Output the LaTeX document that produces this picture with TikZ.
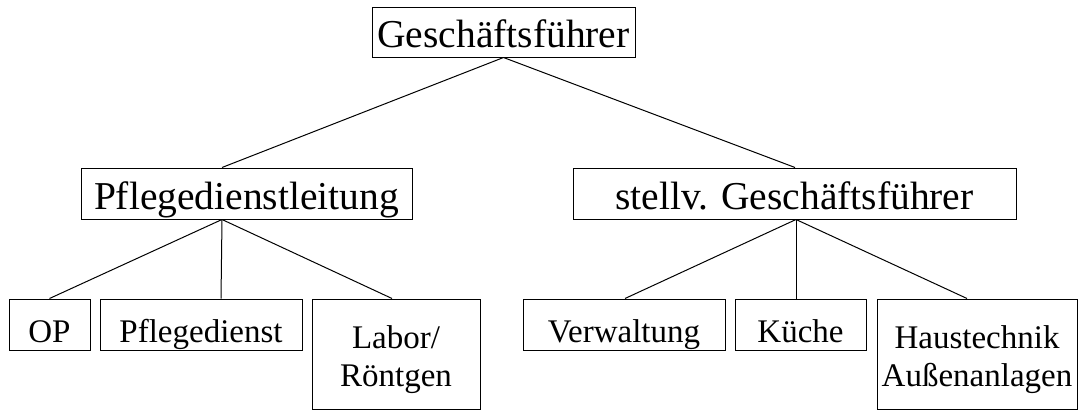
\documentclass[tikz,border=0pt]{standalone}
\usepackage{fontspec}
\setmainfont[Ligatures=CommonOff]{Liberation Serif}
\begin{document}
\begin{tikzpicture}[x=1pt,y=-1pt,
  box/.style={draw, line width=1pt, rectangle, inner sep=0pt, text depth=0pt},
  big/.style={box, font=\fontsize{39.5}{44}\selectfont},
  small/.style={box, font=\fontsize{33}{38}\selectfont},
  link/.style={line width=1pt}]
\useasboundingbox (0,0) rectangle (1078,410);
\fill[white] (0,0) rectangle (1078,410);
% top level
\node[big, minimum width=263pt, minimum height=50pt, text height=30pt] (gf) at (503.5,32) {Geschäftsführer};
% second level
\node[big, minimum width=331pt, minimum height=51pt, text height=31pt] (pdl) at (246.5,193.5) {Pflegedienstleitung};
\node[big, minimum width=443pt, minimum height=51pt, text height=31pt] (sgf) at (794.5,193.5) {stellv. Geschäftsführer};
% third level
\node[small, minimum width=81pt, minimum height=51pt, text height=35pt] (op) at (49.5,324.5) {OP};
\node[small, minimum width=202pt, minimum height=51pt, text height=35pt] (pd) at (201,324.5) {Pflegedienst};
\node[small, minimum width=168pt, minimum height=110pt, text height=64pt] (lab) at (396,354) {\begin{tabular}[b]{@{}c@{}}Labor/\\Röntgen\end{tabular}};
\node[small, minimum width=202pt, minimum height=51pt, text height=35pt] (vw) at (624,324.5) {Verwaltung};
\node[small, minimum width=131pt, minimum height=51pt, text height=35pt] (ku) at (800.5,324.5) {Küche};
\node[small, minimum width=200pt, minimum height=110pt, text height=64pt] (ht) at (977,354) {\begin{tabular}[b]{@{}c@{}}Haustechnik\\Außenanlagen\end{tabular}};
% connectors
\draw[link] (gf.south) -- ([xshift=-24.5pt]pdl.north);
\draw[link] (gf.south) -- ([xshift=0.5pt]sgf.north);
\draw[link] ([xshift=-24.5pt]pdl.south) -- (op.north);
\draw[link] ([xshift=-24.5pt]pdl.south) -- ([xshift=20pt]pd.north);
\draw[link] ([xshift=-24.5pt]pdl.south) -- ([xshift=-4pt]lab.north);
\draw[link] ([xshift=1.5pt]sgf.south) -- ([xshift=1pt]vw.north);
\draw[link] ([xshift=1.5pt]sgf.south) -- ([xshift=-4.5pt]ku.north);
\draw[link] ([xshift=1.5pt]sgf.south) -- ([xshift=-10pt]ht.north);
\end{tikzpicture}
\end{document}
